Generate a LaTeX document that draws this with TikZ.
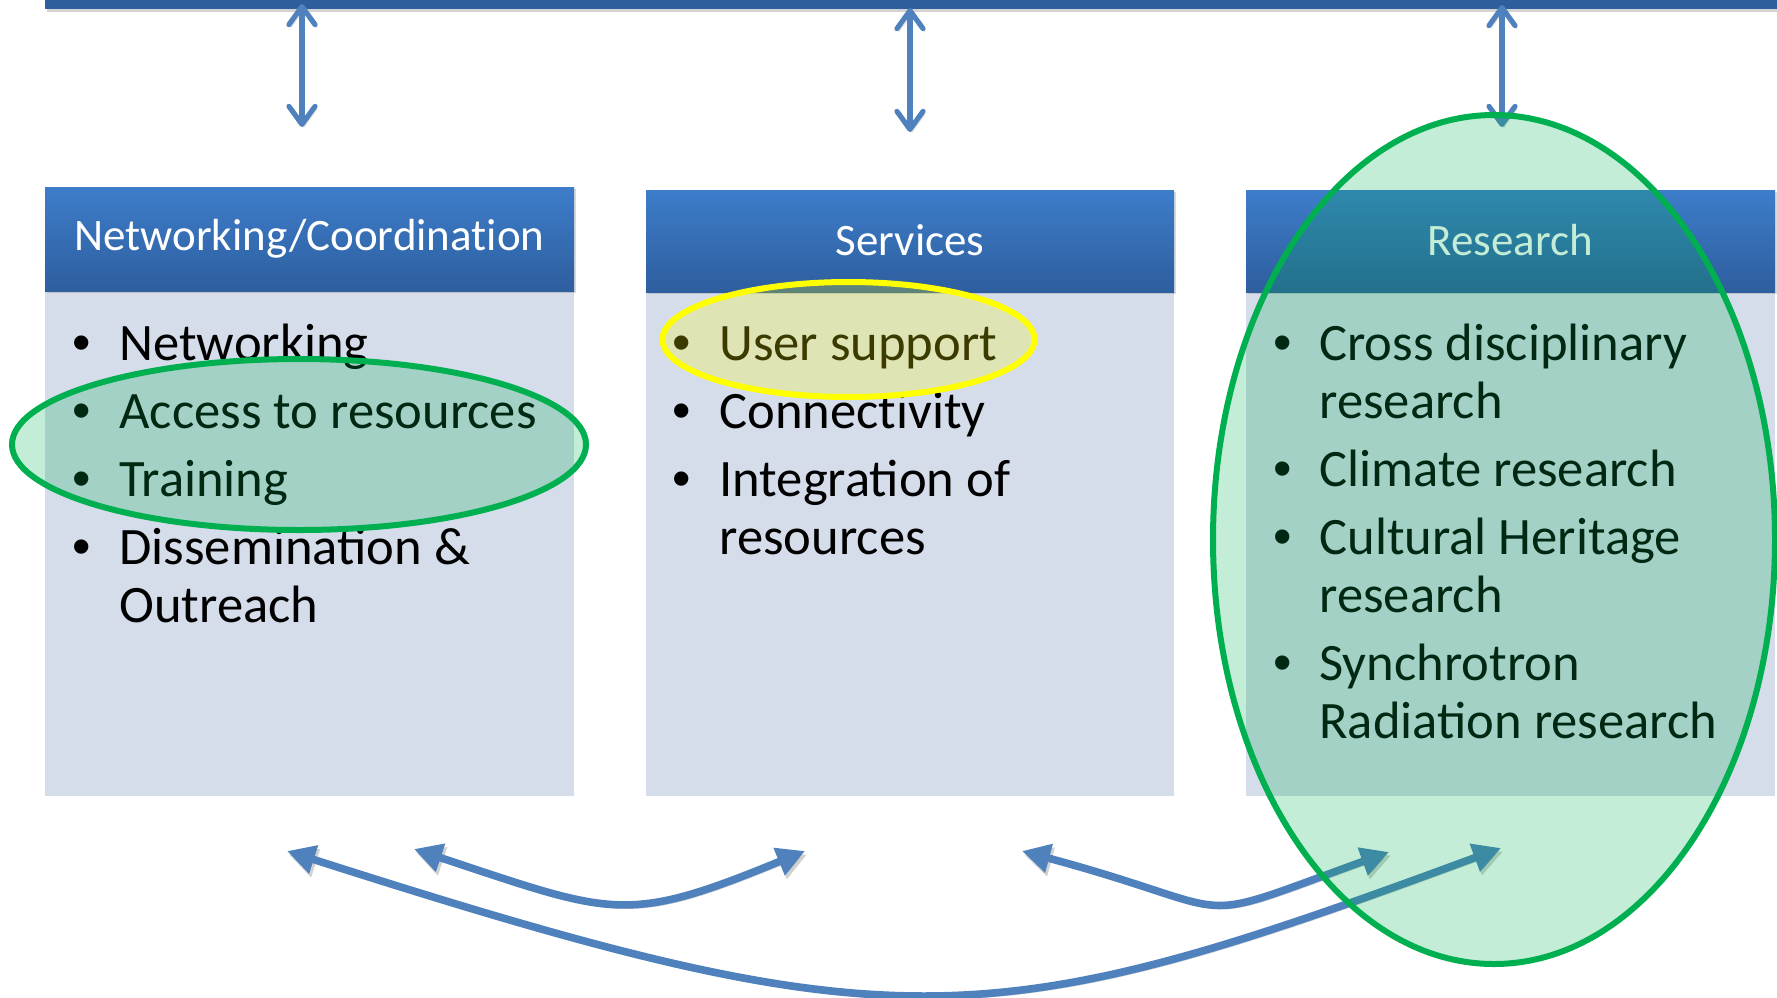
\documentclass[tikz,border=0pt]{standalone}
\usepackage{fontspec}
\setmainfont{Carlito}
\newfontfamily\bulletfont{Liberation Sans}
\usetikzlibrary{arrows.meta,shadows}

% keeps Carlito from joining t and i
\newcommand{\nolig}{\kern0pt}

\definecolor{barblue}{RGB}{46,94,155}
\definecolor{headtop}{RGB}{61,125,202}
\definecolor{headbot}{RGB}{46,94,158}
\definecolor{bodyfill}{RGB}{213,220,234}
\definecolor{linkblue}{RGB}{79,129,189}
\definecolor{ringgreen}{RGB}{0,176,80}
\definecolor{ringyellow}{RGB}{255,255,0}

\tikzset{
  bodytext/.style={anchor=base west, inner sep=0pt, font=\fontsize{26.3}{30}\selectfont},
  dot/.style={anchor=base, inner sep=0pt, font=\bulletfont\fontsize{26.3}{30}\selectfont},
  headtext/.style={anchor=base, inner sep=0pt, text=white, font=\fontsize{22.5}{26}\selectfont},
  headbar/.style={top color=headtop, bottom color=headbot,
    drop shadow={opacity=.3, shadow xshift=1pt, shadow yshift=-1.2pt}},
  updown/.style={linkblue, line width=2.6pt,
    {Straight Barb[length=9pt,width=13pt,round]}-{Straight Barb[length=9pt,width=13pt,round]},
    preaction={draw=black, opacity=.12, transform canvas={shift={(1pt,-1.5pt)}}}},
  link/.style={linkblue, line width=3.8pt,
    {Triangle[length=14pt,width=14pt]}-{Triangle[length=14pt,width=14pt]},
    preaction={draw=black, opacity=.18, transform canvas={shift={(1pt,-1.8pt)}}}},
  ring/.style={line width=3pt, fill opacity=.23}
}

\begin{document}
\begin{tikzpicture}[x=0.5pt, y=-0.5pt]
\useasboundingbox (0,0) rectangle (1777,997);

% top bar
\fill[barblue, drop shadow={opacity=.35, shadow xshift=1pt, shadow yshift=-1.5pt}]
  (45,-20) rectangle (1777,9);

% the three columns
\fill[bodyfill] (45,291) rectangle (574,796);
\fill[bodyfill] (646,292) rectangle (1174,796);
\fill[bodyfill] (1246,292) rectangle (1775,796);
\fill[headbar] (45,187) rectangle (574,291);
\fill[headbar] (646,190) rectangle (1174,292);
\fill[headbar] (1246,190) rectangle (1775,292);

\node[headtext] (nethead) at (309.5,250) {Networking/Coordinat\nolig ion};
\node[headtext] (srvhead) at (910,255) {Services};
\node[headtext] (reshead) at (1510,255) {Research};

% first column
\foreach \y in {360,428,496,564}
  \node[dot] (netdot\y) at (82,\y) {\textbullet};
\node[bodytext] (netw) at (119,360) {Networking};
\node[bodytext] (access) at (119,428) {Access to resources};
\node[bodytext] (train) at (119,496) {Training};
\node[bodytext] (dissem) at (119,564) {Dissemination \&};
\node[bodytext] (outreach) at (119,622) {Outreach};

% second column
\foreach \y in {360,428,496}
  \node[dot] (srvdot\y) at (682,\y) {\textbullet};
\node[bodytext] (usersup) at (719,360) {User support};
\node[bodytext] (connect) at (719,428) {Connect\nolig ivity};
\node[bodytext] (integr) at (719,496) {Integration of};
\node[bodytext] (integrb) at (719,554) {resources};

% third column
\foreach \y in {360,486,554,680}
  \node[dot] (resdot\y) at (1283,\y) {\textbullet};
\node[bodytext] (cross) at (1319,360) {Cross disciplinary};
\node[bodytext] (crossb) at (1319,418) {research};
\node[bodytext] (climate) at (1319,486) {Climate research};
\node[bodytext] (heritage) at (1319,554) {Cultural Heritage};
\node[bodytext] (heritageb) at (1319,612) {research};
\node[bodytext] (synchro) at (1319,680) {Synchrotron};
\node[bodytext] (synchrob) at (1319,738) {Radiation research};

% links up to the bar
\coordinate (barA) at (302,4);
\coordinate (netA) at (302,127);
\coordinate (barB) at (910,8);
\coordinate (srvB) at (910,132);
\coordinate (barC) at (1502,5);
\coordinate (resC) at (1502,127);
\draw[updown] (barA) -- (netA);
\draw[updown] (barB) -- (srvB);
\draw[updown] (barC) -- (resC);

% links between the columns
\coordinate (nsL) at (414,849);
\coordinate (nsR) at (805,851);
\coordinate (srL) at (1022,851);
\coordinate (srR) at (1389,852);
\coordinate (nrL) at (287,851);
\coordinate (nrR) at (1501,848);
\draw[link] (nsL) .. controls (614,915) and (625,925) .. (nsR);
\draw[link] (srL) .. controls (1252,913) and (1179,928) .. (srR);
\draw[link] (nrL) .. controls (897,1046) and (987,1038) .. (nrR);

% highlights
\draw[ring, draw=ringgreen, fill=ringgreen] (299,444.5) ellipse (287 and 85.5);
\draw[ring, draw=ringyellow, fill=ringyellow] (848.5,339.5) ellipse (186 and 57.5);
\draw[ring, draw=ringgreen, fill=ringgreen] (1494,539.5) ellipse (281 and 424.5);
\end{tikzpicture}
\end{document}
